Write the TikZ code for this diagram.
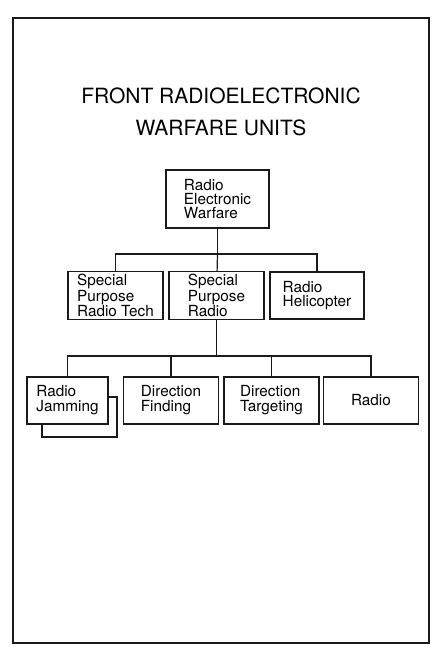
\documentclass[tikz,border=0pt]{standalone}
\usepackage{fontspec}
\setmainfont{TeX Gyre Heros}

\definecolor{Ink}{HTML}{1A1A1A}
\tikzstyle{Unit} = [draw=Ink,
                    rectangle,
                    fill=white,
                    line width=1.2pt,
                    align=left,
                    inner sep=0pt,
                    font=\fontsize{15.3}{14}\selectfont]
\tikzstyle{SubUnit} = [Unit,
                       font=\fontsize{15.3}{15}\selectfont]
\tikzstyle{Link} = [draw=Ink, line width=1.2pt]

\begin{document}
\begin{tikzpicture}[x=1pt, y=-1pt]

	\fill[white] (0, 0) rectangle (438, 648);
	\useasboundingbox (0, 0) rectangle (438, 648);
	\draw [draw=Ink, line width=1.7pt] (13, 18) rectangle (429, 643);

	\node(title) at (221, 111.5) [align=center, font=\fontsize{21}{32}\selectfont]{FRONT RADIOELECTRONIC \\ WARFARE UNITS};

	% Unit nodes
	\node(rew) at (217.5, 199) [Unit, minimum width=103, minimum height=58]{Radio \\ Electronic \\ Warfare};
	\node(sptech) at (115.5, 295.5) [Unit, minimum width=95, minimum height=48]{Special \\ Purpose \\ Radio Tech};
	\node(spradio) at (216.5, 295.5) [Unit, minimum width=95, minimum height=48]{Special \\ Purpose \\ Radio};
	\node(helicopter) at (317, 295.5) [Unit, minimum width=94, minimum height=47]{Radio \\ Helicopter};

	\node(jamback) at (79.5, 417) [Unit, minimum width=75, minimum height=40]{};
	\node(jamming) at (67.5, 400.5) [SubUnit, minimum width=81, minimum height=47]{Radio \\ Jamming};
	\node(finding) at (171, 400.5) [SubUnit, minimum width=95, minimum height=47]{Direction \\ Finding};
	\node(targeting) at (271.5, 400.5) [SubUnit, minimum width=95, minimum height=47]{Direction \\ Targeting};
	\node(radio) at (371, 400.5) [SubUnit, minimum width=95, minimum height=47]{Radio};

	% Lines
	\coordinate(bus1) at (217.5, 254);
	\coordinate(bus2) at (216.5, 356);
	\draw [Link] (rew) -- (bus1);
	\draw [Link] (sptech) |- (bus1);
	\draw [Link] (spradio) -- (bus1);
	\draw [Link] (helicopter) |- (bus1);
	\draw [Link] (spradio) -- (bus2);
	\draw [Link] (jamming) |- (bus2);
	\draw [Link] (finding) |- (bus2);
	\draw [Link] (targeting) |- (bus2);
	\draw [Link] (radio) |- (bus2);

\end{tikzpicture}
\end{document}
